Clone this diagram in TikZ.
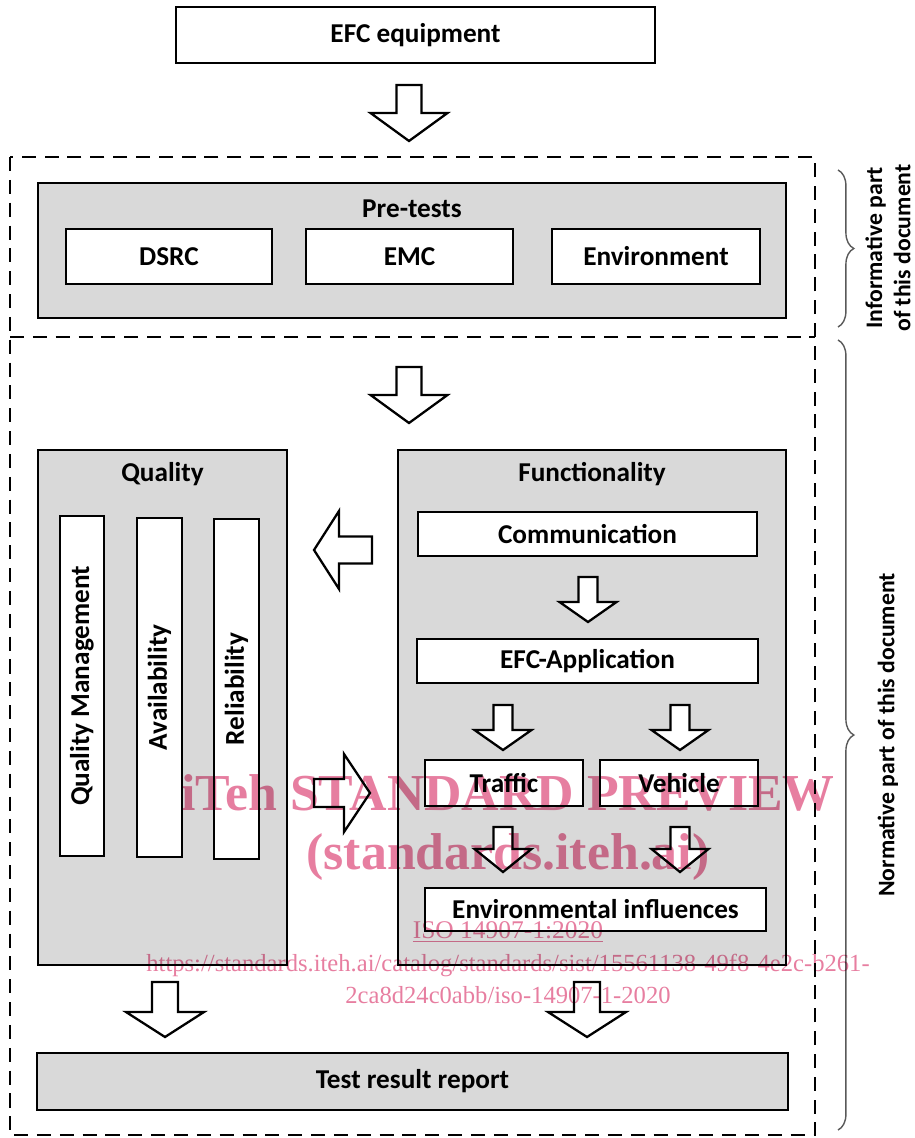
\documentclass[tikz,border=0pt]{standalone}
\usepackage{fontspec}
\setmainfont{Carlito}
\newfontfamily\wmfont{Liberation Serif}
\usetikzlibrary{decorations.pathreplacing}
\definecolor{boxgray}{RGB}{217,217,217}
\definecolor{wmpink}{RGB}{228,112,150}
\tikzset{pics/blockarrow/.style n args={4}{code={
	\draw[line width=1.3pt,fill=white,line join=miter] (0,0) -- (-#2,-#4) -- (-#1,-#4) -- (-#1,-#4-#3) -- (#1,-#4-#3) -- (#1,-#4) -- (#2,-#4) -- cycle;}}}
\begin{document}
\begin{tikzpicture}[x=0.02cm,y=-0.02cm,
	box/.style={draw,line width=1.3pt,fill=white,inner sep=0pt,font=\bfseries\fontsize{15.5}{18}\selectfont},
	graybox/.style={box,fill=boxgray},
	title/.style={inner sep=0pt,font=\bfseries\fontsize{15.5}{18}\selectfont},
	side/.style={rotate=90,align=center,inner sep=0pt,font=\bfseries\fontsize{13.5}{16}\selectfont},
	wmark/.style={text=wmpink,text opacity=0.9,blend mode=multiply,inner sep=0pt}]
	\useasboundingbox (0,0) rectangle (915,1138);
	\node[box,minimum width=9.58cm,minimum height=1.12cm] (efc) at (415.5,35) {EFC equipment};
	\pic at (409,141) {blockarrow={12.5}{38.5}{28}{28}};
	\draw[line width=1.4pt,dash pattern=on 8pt off 5pt] (10,157) rectangle (815,1135);
	\draw[line width=1.4pt,dash pattern=on 8pt off 5pt] (10,337) -- (815,337);
	\node[graybox,minimum width=14.96cm,minimum height=2.7cm] (pretests) at (412,250.5) {};
	\node[title] (pretitle) at (412,209) {Pre-tests};
	\node[box,minimum width=4.12cm,minimum height=1.1cm] (dsrc) at (169,256.5) {DSRC};
	\node[box,minimum width=4.14cm,minimum height=1.1cm] (emc) at (409.5,256.5) {EMC};
	\node[box,minimum width=4.16cm,minimum height=1.1cm] (env) at (656,256.5) {Environment};
	\pic at (409,423) {blockarrow={12.5}{38.5}{28}{28}};
	\node[graybox,minimum width=4.98cm,minimum height=10.3cm] (quality) at (162.5,707.5) {};
	\node[title] (qualtitle) at (162.5,474) {Quality};
	\node[box,rotate=90,minimum width=6.8cm,minimum height=0.88cm] (qm) at (82,686) {Quality Management};
	\node[box,rotate=90,minimum width=6.78cm,minimum height=0.9cm] (avail) at (159.5,687.5) {Availability};
	\node[box,rotate=90,minimum width=6.8cm,minimum height=0.9cm] (rel) at (236.5,689) {Reliability};
	\node[graybox,minimum width=7.76cm,minimum height=10.3cm] (func) at (592,707.5) {};
	\node[title] (functitle) at (592,474) {Functionality};
	\node[box,minimum width=6.78cm,minimum height=0.88cm] (comm) at (587.5,534) {Communication};
	\pic[rotate=-90] at (314,550) {blockarrow={13.5}{39}{33}{25}};
	\pic at (588,622) {blockarrow={9.5}{28.5}{25}{20}};
	\node[box,minimum width=6.82cm,minimum height=0.88cm] (efcapp) at (587.5,661) {EFC-Application};
	\pic at (503,750) {blockarrow={9.5}{28.5}{25}{20}};
	\pic at (680,750) {blockarrow={9.5}{28.5}{25}{20}};
	\node[box,minimum width=3.16cm,minimum height=0.92cm] (traffic) at (504,783) {Traffic};
	\node[box,minimum width=3.16cm,minimum height=0.92cm] (vehicle) at (679,783) {Vehicle};
	\pic[rotate=90] at (370,793) {blockarrow={14}{39}{30}{26}};
	\pic at (503,872) {blockarrow={9.5}{28.5}{22}{23}};
	\pic at (680,872) {blockarrow={9.5}{28.5}{22}{23}};
	\node[box,minimum width=6.82cm,minimum height=0.86cm] (envinf) at (595.5,909.5) {Environmental influences};
	\pic at (165,1037) {blockarrow={13}{39}{30}{25}};
	\pic at (587,1037) {blockarrow={13}{39}{30}{25}};
	\node[graybox,minimum width=15.02cm,minimum height=1.14cm] (report) at (412.5,1081.5) {Test result report};
	\draw[decorate,decoration={brace,amplitude=9pt},line width=0.8pt,black!65] (838,170) -- (838,327);
	\draw[decorate,decoration={brace,amplitude=9pt},line width=0.8pt,black!65] (838,340) -- (838,1130);
	\node[side] (informative) at (888,248) {Informative part\\of this document};
	\node[side] (normative) at (888,735) {Normative part of this document};
	\node[wmark,font=\wmfont\bfseries\fontsize{29.5}{31}\selectfont] (wm1) at (508,793) {iTeh STANDARD PREVIEW};
	\node[wmark,font=\wmfont\bfseries\fontsize{29.5}{31}\selectfont] (wm2) at (508,857) {(standards.iteh.ai)};
	\node[wmark,font=\wmfont\fontsize{14.5}{16}\selectfont] (wm3) at (508,932) {\underline{ISO 14907-1:2020}};
	\node[wmark,font=\wmfont\fontsize{14}{16}\selectfont] (wm4) at (508,965) {https://standards.iteh.ai/catalog/standards/sist/15561138-49f8-4e2c-b261-};
	\node[wmark,font=\wmfont\fontsize{14}{16}\selectfont] (wm5) at (508,995) {2ca8d24c0abb/iso-14907-1-2020};
\end{tikzpicture}
\end{document}
